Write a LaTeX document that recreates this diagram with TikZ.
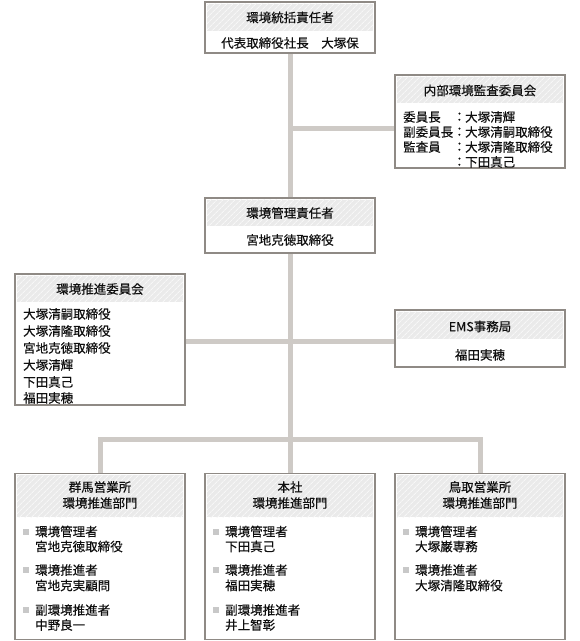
\documentclass[tikz,border=0pt]{standalone}
\usepackage{fontspec}
\setmainfont{Noto Sans CJK JP}[BoldFont=Noto Sans CJK JP, BoldFeatures={FakeBold=0.35}]
\usetikzlibrary{patterns.meta,backgrounds}
\definecolor{bordc}{RGB}{143,138,133}
\definecolor{connc}{RGB}{206,202,198}
\definecolor{headc}{RGB}{234,234,234}
\definecolor{bulc}{RGB}{200,200,200}
\definecolor{txtc}{RGB}{15,15,15}
\tikzset{
  orgbox/.style={draw=bordc, line width=1.2pt, fill=white, inner sep=0pt, rectangle},
  headband/.style={fill=headc, postaction={pattern={Lines[angle=45,distance=4pt,line width=1pt]}, pattern color=white!60!headc}, draw=none, inner sep=0pt, rectangle},
  conn/.style={draw=connc, line width=5pt, line join=miter},
  txt/.style={font=\fontsize{12.5}{15}\selectfont\bfseries, text=txtc, inner sep=0pt},
  ltxt/.style={txt, anchor=west},
  bul/.style={fill=bulc, minimum size=6pt, inner sep=0pt, rectangle},
}
\begin{document}
\begin{tikzpicture}[x=1pt,y=-1pt]
\useasboundingbox (0,0) rectangle (580,641);
% ---------- boxes ----------
\node[orgbox, minimum width=170pt, minimum height=51pt] (top) at (290,27.5) {};
\node[headband, minimum width=165.6pt, minimum height=27pt, anchor=north] (toph) at ([yshift=-2.2pt]top.north) {};
\node[txt] (topt) at (290,17.5) {環境統括責任者};
\node[txt] (topb) at (290,43) {代表取締役社長　大塚保};

\node[orgbox, minimum width=170pt, minimum height=93pt] (audit) at (480,121.5) {};
\node[headband, minimum width=165.6pt, minimum height=26pt, anchor=north] (audith) at ([yshift=-2.2pt]audit.north) {};
\node[txt] (auditt) at (480,90.5) {内部環境監査委員会};
\node[ltxt] (a1) at (403,117) {委員長};
\node[ltxt] (a1c) at (453,117) {：};
\node[ltxt] (a1n) at (465,117) {大塚清輝};
\node[ltxt] (a2) at (403,132) {副委員長};
\node[ltxt] (a2c) at (453,132) {：};
\node[ltxt] (a2n) at (465,132) {大塚清嗣取締役};
\node[ltxt] (a3) at (403,147) {監査員};
\node[ltxt] (a3c) at (453,147) {：};
\node[ltxt] (a3n) at (465,147) {大塚清隆取締役};
\node[ltxt] (a4c) at (453,162) {：};
\node[ltxt] (a4n) at (465,162) {下田真己};

\node[orgbox, minimum width=170pt, minimum height=55pt] (mgr) at (290,225.5) {};
\node[headband, minimum width=165.6pt, minimum height=26pt, anchor=north] (mgrh) at ([yshift=-2.2pt]mgr.north) {};
\node[txt] (mgrt) at (290,213) {環境管理責任者};
\node[txt] (mgrb) at (290,240) {宮地克徳取締役};

\node[orgbox, minimum width=170pt, minimum height=131pt] (com) at (100,339.5) {};
\node[headband, minimum width=165.6pt, minimum height=26pt, anchor=north] (comh) at ([yshift=-2.2pt]com.north) {};
\node[txt] (comt) at (100,289) {環境推進委員会};
\node[ltxt] (c1) at (23,314) {大塚清嗣取締役};
\node[ltxt] (c2) at (23,331) {大塚清隆取締役};
\node[ltxt] (c3) at (23,348) {宮地克徳取締役};
\node[ltxt] (c4) at (23,365) {大塚清輝};
\node[ltxt] (c5) at (23,382) {下田真己};
\node[ltxt] (c6) at (23,398) {福田実穂};

\node[orgbox, minimum width=170pt, minimum height=57pt] (ems) at (480,338.5) {};
\node[headband, minimum width=165.6pt, minimum height=27pt, anchor=north] (emsh) at ([yshift=-2.2pt]ems.north) {};
\node[txt] (emst) at (480,326.5) {EMS事務局};
\node[txt] (emsb) at (480,355) {福田実穂};

% bottom boxes
\node[orgbox, minimum width=170pt, minimum height=166pt] (bl) at (100,556.3) {};
\node[headband, minimum width=165.6pt, minimum height=42pt, anchor=north] (blh) at ([yshift=-2.2pt]bl.north) {};
\node[txt] (blt1) at (100,487) {群馬営業所};
\node[txt] (blt2) at (100,503) {環境推進部門};
\node[bul] (blb1) at (26,531.5) {};
\node[ltxt] (bl1) at (35,531.5) {環境管理者};
\node[ltxt] (bl1n) at (35,546.5) {宮地克徳取締役};
\node[bul] (blb2) at (26,570) {};
\node[ltxt] (bl2) at (35,570) {環境推進者};
\node[ltxt] (bl2n) at (35,585.5) {宮地克実顧問};
\node[bul] (blb3) at (26,610) {};
\node[ltxt] (bl3) at (35,610) {副環境推進者};
\node[ltxt] (bl3n) at (35,625) {中野良一};

\node[orgbox, minimum width=170pt, minimum height=166pt] (bm) at (290,556.3) {};
\node[headband, minimum width=165.6pt, minimum height=42pt, anchor=north] (bmh) at ([yshift=-2.2pt]bm.north) {};
\node[txt] (bmt1) at (290,487) {本社};
\node[txt] (bmt2) at (290,503) {環境推進部門};
\node[bul] (bmb1) at (216,531.5) {};
\node[ltxt] (bm1) at (225,531.5) {環境管理者};
\node[ltxt] (bm1n) at (225,546.5) {下田真己};
\node[bul] (bmb2) at (216,570) {};
\node[ltxt] (bm2) at (225,570) {環境推進者};
\node[ltxt] (bm2n) at (225,585.5) {福田実穂};
\node[bul] (bmb3) at (216,610) {};
\node[ltxt] (bm3) at (225,610) {副環境推進者};
\node[ltxt] (bm3n) at (225,625) {井上智彰};

\node[orgbox, minimum width=170pt, minimum height=166pt] (br) at (480,556.3) {};
\node[headband, minimum width=165.6pt, minimum height=42pt, anchor=north] (brh) at ([yshift=-2.2pt]br.north) {};
\node[txt] (brt1) at (480,487) {鳥取営業所};
\node[txt] (brt2) at (480,503) {環境推進部門};
\node[bul] (brb1) at (406,531.5) {};
\node[ltxt] (br1) at (415,531.5) {環境管理者};
\node[ltxt] (br1n) at (415,546.5) {大塚巌専務};
\node[bul] (brb2) at (406,570) {};
\node[ltxt] (br2) at (415,570) {環境推進者};
\node[ltxt] (br2n) at (415,585.5) {大塚清隆取締役};

% ---------- connectors ----------
\coordinate (jA) at (290,128.5);
\coordinate (jB) at (290,341);
\coordinate (jC) at (290,439.5);
\begin{scope}[on background layer]
\draw[conn] (top.south) -- (mgr.north);
\draw[conn] (jA) -- (jA -| audit.west);
\draw[conn] (mgr.south) -- (jC);
\draw[conn] (jB -| com.east) -- (jB -| ems.west);
\draw[conn] (bl.north) -- (bl.north |- jC) -- (br.north |- jC) -- (br.north);
\draw[conn] (jC) -- (bm.north);
\end{scope}
\end{tikzpicture}
\end{document}
